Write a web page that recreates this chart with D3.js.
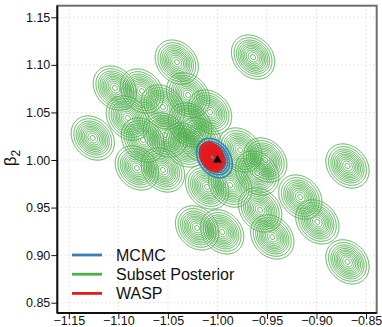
<!DOCTYPE html>
<html><head><meta charset="utf-8">
<script src="https://cdn.jsdelivr.net/npm/d3@7"></script>
<style>body{margin:0;background:#fff}svg{display:block;font-family:"Liberation Sans",Arial,Helvetica,sans-serif}</style>
</head><body>
<svg id="c" width="382" height="327"></svg>
<script>
// ---- data ----
const subsetX = [-0.964,-1.041,-1.1035,-1.1258,-1.0762,-1.055,-1.0074,-1.0752,-1.0327,-1.0813,-1.055,-1.0104,-0.977,-0.9598,-0.9517,-0.9568,-0.9446,-0.9163,-0.8991,-0.8687,-0.8687,-1.0205,-0.9952,-1.0276,-1.0296,-1.0904,-1.0529,-1.0175,-0.9871];
const subsetY = [1.1082,1.1029,1.0756,1.0231,1.0725,1.0557,1.0504,1.021,1.0158,0.9916,0.9895,0.9716,1.0105,0.9863,1.0,0.9475,0.9191,0.9611,0.9349,0.9937,0.8929,0.9286,0.9244,1.0368,1.0683,1.0441,1.0263,1.021,0.9737];
const mcmcCenter = [-1.003, 1.002];
const waspCenter = [-1.0054, 1.0032];
const truth = [-1.00, 1.00];
const xTicks = [-1.15,-1.10,-1.05,-1.00,-0.95,-0.90,-0.85];
const xTickLabels = ["\u22121.15","\u22121.10","\u22121.05","\u22121.00","\u22120.95","\u22120.90","\u22120.85"];
const yTicks = [0.85,0.90,0.95,1.00,1.05,1.10,1.15];
const yTickLabels = ["0.85","0.90","0.95","1.00","1.05","1.10","1.15"];
const legendLabels = ["MCMC","Subset Posterior","WASP"];
const colors = {mcmc:"#377eb8", subset:"#4daf4a", wasp:"#e41a1c"};

// ---- layout ----
const L=57.3, R=376.7, T=5.7, B=313;
const xs = d3.scaleLinear().domain([-1.15,-0.85]).range([68.8,366]);
const ys = d3.scaleLinear().domain([0.85,1.15]).range([302.7,17.3]);
const svg = d3.select("#c");

// grid
const grid = svg.append("g").attr("stroke","#cfcfcf").attr("stroke-dasharray","1,3").attr("stroke-width",1);
xTicks.forEach(v=>grid.append("line").attr("x1",xs(v)).attr("x2",xs(v)).attr("y1",T).attr("y2",B));
yTicks.forEach(v=>grid.append("line").attr("y1",ys(v)).attr("y2",ys(v)).attr("x1",L).attr("x2",R));

// contour helper
function drawContours(g, cx, cy, sx, sy, rho, levels, color, width){
  const n=100, rg=4;
  const x0=cx-rg*sx, y0=cy-rg*sy, dx=2*rg*sx/n, dy=2*rg*sy/n;
  const vals=new Float64Array(n*n);
  for(let j=0;j<n;j++)for(let i=0;i<n;i++){
    const zx=(x0+(i+0.5)*dx-cx)/sx, zy=(y0+(j+0.5)*dy-cy)/sy;
    vals[j*n+i]=Math.exp(-0.5*(zx*zx-2*rho*zx*zy+zy*zy)/(1-rho*rho));
  }
  const cs=d3.contours().size([n,n]).thresholds(levels)(vals);
  const proj=d3.geoTransform({point(px,py){this.stream.point(xs(x0+px*dx), ys(y0+py*dy));}});
  const path=d3.geoPath(proj);
  g.selectAll(null).data(cs).join("path").attr("d",path)
    .attr("fill","none").attr("stroke",color).attr("stroke-width",width);
}
const plot = svg.append("g");
const lvG=[0.02,0.05,0.1,0.16,0.24,0.33,0.43,0.55,0.68,0.82,0.95];
subsetX.forEach((x,i)=>drawContours(plot,x,subsetY[i],0.0078,0.0083,-0.22,lvG,colors.subset,1));
drawContours(plot,mcmcCenter[0],mcmcCenter[1],0.0068,0.0078,-0.3,[0.03,0.08,0.15,0.24,0.35,0.48,0.62,0.77,0.92],colors.mcmc,1.6);
drawContours(plot,waspCenter[0],waspCenter[1],0.0047,0.0058,-0.3,[0.03,0.06,0.1,0.15,0.2,0.26,0.33,0.4,0.48,0.56,0.65,0.74,0.83,0.92],colors.wasp,1.5);
plot.append("path").attr("d",d3.symbol(d3.symbolTriangle,34)())
  .attr("transform",`translate(${xs(truth[0])},${ys(truth[1])})`).attr("fill","#000");

// frame
svg.append("rect").attr("x",L).attr("y",T).attr("width",R-L).attr("height",B-T)
  .attr("fill","none").attr("stroke","#6e6e6e").attr("stroke-width",2);
svg.append("line").attr("x1",L).attr("x2",L).attr("y1",T).attr("y2",B).attr("stroke","#111").attr("stroke-width",1.8);
svg.append("line").attr("x1",L).attr("x2",R).attr("y1",B).attr("y2",B).attr("stroke","#111").attr("stroke-width",1.8);

// axes
const xa = svg.append("g").attr("transform",`translate(0,${B})`)
  .call(d3.axisBottom(xs).tickValues(xTicks).tickFormat((d,i)=>xTickLabels[i]).tickSize(6).tickSizeOuter(0).tickPadding(-3));
const ya = svg.append("g").attr("transform",`translate(${L},0)`)
  .call(d3.axisLeft(ys).tickValues(yTicks).tickFormat((d,i)=>yTickLabels[i]).tickSize(6).tickSizeOuter(0).tickPadding(1));
[xa,ya].forEach(a=>{a.select(".domain").remove();a.selectAll("line").attr("stroke","#111");
  a.selectAll("text").attr("fill","#111").style("font-size","12.5px").style("font-family","'Liberation Sans',Arial,sans-serif");});

// y label
svg.append("text").attr("transform","translate(16,158) rotate(-90)").attr("text-anchor","middle")
  .style("font-size","17px").attr("fill","#111")
  .html('\u03b2<tspan dy="4" font-size="12px">2</tspan>');

// legend
const lg = svg.append("g");
const lc=[colors.mcmc,colors.subset,colors.wasp];
legendLabels.forEach((t,i)=>{
  const y=255+i*19.2;
  lg.append("line").attr("x1",72).attr("x2",102).attr("y1",y).attr("y2",y).attr("stroke",lc[i]).attr("stroke-width",2.8);
  lg.append("text").attr("x",116).attr("y",y).attr("dy","0.35em").style("font-size","16px").attr("fill","#111").text(t);
});
</script>
</body></html>
